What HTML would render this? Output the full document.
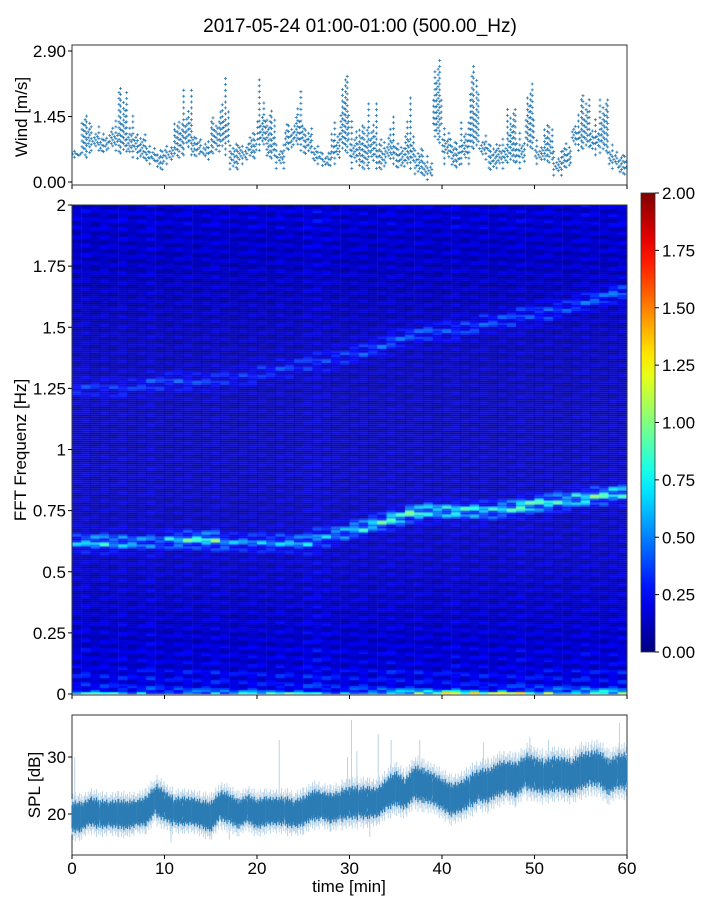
<!DOCTYPE html>
<html><head><meta charset="utf-8"><style>
body{margin:0;background:#fff;}
#wrap{position:relative;width:720px;height:900px;font-family:"Liberation Sans",sans-serif;}
svg{position:absolute;left:0;top:0;}
canvas{position:absolute;left:72px;top:205px;}
</style></head><body>
<div id="wrap">
<canvas id="spec" width="555" height="490"></canvas>
<svg id="svg" width="720" height="900" xmlns="http://www.w3.org/2000/svg"></svg>
</div>
<script>
// ---------- data ----------
const minutes = Array.from({length:60},(_,i)=>i);
const xTicks = [0,10,20,30,40,50,60];
const windTicks = ["0.00","1.45","2.90"];
const windTickVals = [0,1.45,2.90];
const windMean = [.65,1.0,.95,.85,.95,1.0,.85,.75,.6,.55,.65,.95,1.05,.8,.7,1.0,1.1,.6,.65,.8,1.05,.8,.6,.95,1.05,.9,.6,.5,.75,1.1,.7,.65,.75,.6,.7,.55,.6,.45,.3,1.5,.8,.6,.75,1.1,.8,.55,.6,.75,.7,1.1,.65,.75,.4,.55,1.05,1.1,.95,1.05,.55,.4];
const windMin = [.55,.5,.7,.65,.7,.6,.55,.5,.4,.25,.4,.5,.6,.55,.5,.6,.6,.25,.4,.5,.7,.5,.3,.7,.7,.6,.4,.35,.4,.6,.3,.25,.3,.25,.4,.3,.3,.15,.05,.8,.4,.3,.4,.7,.5,.25,.3,.4,.3,.7,.4,.4,.15,.3,.7,.7,.6,.6,.3,.15];
const windMax = [.75,1.6,1.3,1.1,1.45,2.25,1.5,1.1,.85,.75,.9,1.45,2.1,1.1,1.0,1.5,2.3,.9,.9,1.2,2.3,1.7,.9,1.4,2.0,1.3,.9,.7,1.4,2.6,1.45,1.4,1.8,1.0,1.5,.9,1.9,.8,.6,2.9,1.3,1.0,1.4,2.8,1.1,.9,1.0,1.7,1.1,2.3,1.0,1.4,.7,.9,1.5,2.1,1.4,1.9,.9,.7];
const splMean = [19.5,19.5,20.5,20,20,20,19.8,20.2,20.5,22.5,21.5,20.5,20.5,20.5,20,19.5,21.5,21,20,21,20,20.5,20.5,20.5,20,20.5,21.5,21.5,21,21.5,22,22,22,22,23.5,24.5,23.5,25.5,25,24.5,23.5,22.5,23,24,25,25,26,26.5,26,27.5,27,26.5,27,27,26.5,27.5,28,28,26.5,27.5];
const splSpread = [2.4,2.2,2.3,2.2,2.2,2.3,2.2,2.2,2.3,2.5,2.3,2.2,2.2,2.2,2.3,2.3,2.4,2.3,2.2,2.3,2.3,2.2,2.2,2.3,2.3,2.3,2.4,2.3,2.3,2.5,2.6,2.5,2.4,2.4,2.6,2.6,2.5,2.7,2.6,2.5,2.5,2.5,2.5,2.6,2.7,2.6,2.7,2.7,2.6,2.8,2.7,2.7,2.7,2.7,2.7,2.8,2.8,2.8,2.7,2.8];
const splSpikeT = [0.3,22.4,29.8,30.2,30.8,33.1,34.5,37.6,44.5,49.5,51.5,55.5,59.2,10.7,32.2,14,17,3,6.5];
const splSpikeV = [30,33,30,36.5,31,34,33,33,32.5,33.5,33,32,36,15,16,16.5,15.5,17,16.5];
const splTicks = [20,30];
const freqTicks = [0,0.25,0.5,0.75,1,1.25,1.5,1.75,2];
const freqTickLabels = ["0","0.25","0.5","0.75","1","1.25","1.5","1.75","2"];
const cbTicks = [0,0.25,0.5,0.75,1,1.25,1.5,1.75,2];
const cbTickLabels = ["0.00","0.25","0.50","0.75","1.00","1.25","1.50","1.75","2.00"];
const ridgeFreq = [0.62,0.62,0.62,0.62,0.62,0.63,0.63,0.63,0.62,0.62,0.62,0.62,0.62,0.64,0.66,0.68,0.70,0.72,0.74,0.75,0.75,0.75,0.75,0.76,0.77,0.78,0.79,0.80,0.81,0.82];
const ridgeAmp = [0.35,0.5,0.4,0.35,0.3,0.45,0.55,0.6,0.35,0.3,0.35,0.35,0.4,0.35,0.4,0.5,0.55,0.6,0.65,0.55,0.55,0.55,0.5,0.55,0.65,0.6,0.55,0.55,0.6,0.55];
const ridge2Freq = [1.25,1.25,1.25,1.26,1.27,1.28,1.28,1.28,1.29,1.30,1.32,1.33,1.35,1.36,1.38,1.40,1.42,1.45,1.47,1.48,1.49,1.50,1.52,1.53,1.55,1.56,1.58,1.60,1.62,1.64];
const ridge2Amp = [0.15,0.15,0.15,0.15,0.18,0.2,0.18,0.15,0.15,0.15,0.15,0.15,0.15,0.15,0.18,0.2,0.22,0.22,0.22,0.22,0.2,0.2,0.2,0.2,0.2,0.22,0.22,0.22,0.25,0.25];
const lowAmp = [0.6,0.8,0.8,0.7,0.7,0.7,0.8,0.8,0.6,0.7,0.7,0.8,0.7,0.6,0.6,1.0,1.1,1.2,1.5,1.3,1.4,1.3,1.1,1.4,1.5,1.3,1.5,1.4,1.7,1.4];
const bgLevel = [0.24,0.19,0.17,0.16,0.16,0.16,0.16,0.15,0.15,0.15,0.14,0.14,0.14,0.14,0.14,0.14,0.14,0.15,0.16,0.18];
const colLevel = [1.0,1.1,0.9,1.05,0.95,1.1,0.9,1.0,1.15,0.95,0.9,1.0,1.05,0.9,1.0,1.1,1.0,0.9,0.95,1.05,1.0,0.9,1.1,1.0,0.95,1.15,1.2,1.1,1.0,0.95,1.0,1.05,0.9,1.0,1.1,1.0,0.95,1.05,1.0,0.9,1.0,1.1,0.95,1.0,1.05,0.9,1.0,1.0,1.1,0.95,1.0,1.05,1.0,0.9,1.0,1.1,1.0,0.95,1.05,1.1];
const rowStripe = [1.0,0.55,1.35,0.8,0.45,1.4,0.7,1.15,0.6,1.0,1.3,0.5,0.85,1.2,0.6,1.1,0.75,1.45,0.5,0.95,1.25,0.65];

// ---------- scales ----------
const X0=72,X1=627;
const xs = t => X0 + t/60*(X1-X0);
const yWind = v => 182 - v*45.17;
const yFreq = f => 694 - f*244.5;
const ySpl = v => 814 - (v-20)*5.7;
const yCb = v => 652 - v*229.5;

const svg = document.getElementById('svg');
const NS='http://www.w3.org/2000/svg';
function el(tag, attrs, parent){const e=document.createElementNS(NS,tag);for(const k in attrs)e.setAttribute(k,attrs[k]);(parent||svg).appendChild(e);return e;}
function txt(x,y,s,anchor,size,parent){const t=el('text',{x:x,y:y,'text-anchor':anchor,'font-size':size,fill:'#000','font-family':'Liberation Sans, sans-serif'},parent);t.textContent=s;return t;}

let t = txt(360,32,"2017-05-24 01:00-01:00 (500.00_Hz)","middle",19);



function jet(v){v=Math.max(0,Math.min(1,v));
 const r=Math.max(0,Math.min(1,1.5-Math.abs(4*v-3)));
 const g=Math.max(0,Math.min(1,1.5-Math.abs(4*v-2)));
 const b=Math.max(0,Math.min(1,1.5-Math.abs(4*v-1)));
 return 'rgb('+Math.round(r*255)+','+Math.round(g*255)+','+Math.round(b*255)+')';}

// ---------- spectrogram ----------
const ctx=document.getElementById('spec').getContext('2d');
const nRows=245;
for(let c=0;c<60;c++){
  const k=Math.floor(c/2);
  const x0=xs(c)-X0, w=xs(c+1)-xs(c)+0.5;
  for(let r=0;r<nRows;r++){
    const f=(r+0.5)/nRows*2;
    const s=rowStripe[(r*3+c*5)%rowStripe.length];
    let v=bgLevel[Math.min(19,Math.floor(f*10))]*s*colLevel[c];
    v+=ridgeAmp[k]*s*Math.exp(-Math.pow((f-ridgeFreq[k])/0.03,2));
    v+=ridge2Amp[k]*s*Math.exp(-Math.pow((f-ridge2Freq[k])/0.035,2));
    if(f<0.04) v+=lowAmp[k]*s*Math.exp(-f/0.01)*0.8;
    ctx.fillStyle=jet(v/2);
    const y=yFreq(f)-205;
    ctx.fillRect(x0,y-1.1,w,2.2);
  }
}

// ---------- frames ----------
const panels=[[45,185,'wind-panel-frame'],[205,695,'spectrogram-frame'],[715,855,'spl-panel-frame']];
panels.forEach(p=>{const r=el('rect',{x:X0,y:p[0],width:X1-X0,height:p[1]-p[0],fill:'none',stroke:'#333','stroke-width':1});
 
 });

[185,695,855].forEach((yb,pi)=>{xTicks.forEach(v=>{const l=el('line',{x1:xs(v),x2:xs(v),y1:yb,y2:yb+4,stroke:'#000'});
 
 
 if(pi===2){const tt=txt(xs(v),874,String(v),'middle',17);
  
  }});});
t=txt(349,892,"time [min]","middle",17);



// ---------- wind ----------
windTickVals.forEach((v,i)=>{el('line',{x1:X0-4,x2:X0,y1:yWind(v),y2:yWind(v),stroke:'#000'});
 const tt=txt(66,yWind(v)+6,windTicks[i],'end',17);
 
 });
t=txt(0,0,"Wind [m/s]","middle",17);t.setAttribute('transform','translate(27,117) rotate(-90)');


const colW=[0.3,0.7,1.0,0.5,0.2,0.8,0.4,0.9,0.6,0.3];
minutes.forEach(m=>{
  let d='';
  for(let j=0;j<6;j++){
    const tt=m+j/6+0.08, x=xs(tt), w=colW[(j*2+m)%10];
    const lo=windMean[m]-(windMean[m]-windMin[m])*w, hi=windMean[m]+(windMax[m]-windMean[m])*w;
    for(let v=lo; v<=hi+0.001; v+=0.13){const y=yWind(v);d+=`M${(x-1.5).toFixed(1)} ${y.toFixed(1)}h3M${x.toFixed(1)} ${(y-1.5).toFixed(1)}v3`;}
  }
  const p=el('path',{d:d,stroke:'#1f77b4','stroke-width':0.8,fill:'none'});
  
  
});

// ---------- spectrogram axis ----------
freqTicks.forEach((v,i)=>{el('line',{x1:X0-4,x2:X0,y1:yFreq(v),y2:yFreq(v),stroke:'#000'});
 const tt=txt(66,yFreq(v)+6,freqTickLabels[i],'end',17);
 
 });
t=txt(0,0,"FFT Frequenz [Hz]","middle",17);t.setAttribute('transform','translate(26,450) rotate(-90)');



// ---------- colorbar ----------
const defs=el('defs',{});
const lg=el('linearGradient',{id:'jetg',x1:0,y1:1,x2:0,y2:0},defs);
for(let i=0;i<=20;i++){el('stop',{offset:i/20,'stop-color':jet(i/20)},lg);}
const cb=el('rect',{x:641,y:yCb(2),width:14,height:yCb(0)-yCb(2),fill:'url(#jetg)',stroke:'#333','stroke-width':0.8});


cbTicks.forEach((v,i)=>{el('line',{x1:655,x2:659,y1:yCb(v),y2:yCb(v),stroke:'#000'});
 const tt=txt(662,yCb(v)+6,cbTickLabels[i],'start',17);
 
 });

// ---------- SPL ----------
splTicks.forEach(v=>{el('line',{x1:X0-4,x2:X0,y1:ySpl(v),y2:ySpl(v),stroke:'#000'});
 const tt=txt(66,ySpl(v)+6,String(v),'end',17);
 
 });
t=txt(0,0,"SPL [dB]","middle",17);t.setAttribute('transform','translate(40,785) rotate(-90)');


splSpikeT.forEach((tt,i)=>{const c=splMean[Math.min(59,Math.floor(tt))];
 const l=el('line',{x1:xs(tt),x2:xs(tt),y1:ySpl(c),y2:ySpl(splSpikeV[i]),stroke:'#a9c9e2','stroke-width':0.8});
 
 });
const spPat=[1.0,0.6,1.3,0.8,0.5,1.1,0.9,1.4,0.7,1.0,0.6,1.2,0.85,0.55,1.15,0.95,1.35,0.7,0.9,1.05];
minutes.forEach(m=>{
  let dl='',dd='';
  for(let j=0;j<20;j++){
    const tt=m+j/20, nxt=splMean[Math.min(59,m+1)];
    const c=splMean[m]+(nxt-splMean[m])*j/20;
    const h=splSpread[m]*spPat[(j+m*7)%20];
    const x=xs(tt).toFixed(2);
    dl+=`M${x} ${ySpl(c+h*1.3).toFixed(1)}V${ySpl(c-h*1.3).toFixed(1)}`;
    dd+=`M${x} ${ySpl(c+h*0.85).toFixed(1)}V${ySpl(c-h*0.85).toFixed(1)}`;
  }
  const a=el('path',{d:dl,stroke:'#b8d3e8','stroke-width':0.9,fill:'none'});
  
  
  const b=el('path',{d:dd,stroke:'#2b7bb4','stroke-width':1.2,fill:'none'});
  
  
});
</script>
</body></html>
